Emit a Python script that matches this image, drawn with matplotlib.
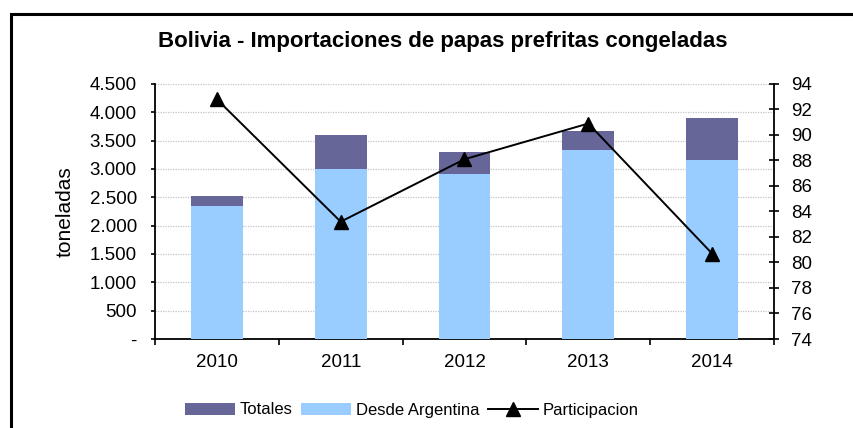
import numpy as np
import matplotlib
matplotlib.use("Agg")
import matplotlib.pyplot as plt
from matplotlib.patches import Rectangle

plt.rcParams['font.family'] = ['Liberation Sans', 'DejaVu Sans']

years = ['2010', '2011', '2012', '2013', '2014']
totales = [2520, 3600, 3300, 3670, 3900]
argentina = [2340, 3000, 2910, 3335, 3155]
participacion = [92.8, 83.2, 88.1, 90.9, 80.7]

fig = plt.figure(figsize=(8.54, 4.28), dpi=100)
ax = fig.add_axes([155/854, 1-339/428, 619/854, 255/428])

# outer frame of the chart
fig.patches.append(Rectangle((11/854, -0.1), 1.2, 1 - 14/428 + 0.1,
                             transform=fig.transFigure, fill=False,
                             edgecolor='black', linewidth=2.2))

x = np.arange(len(years))
w = 0.42
b1 = ax.bar(x, totales, w, color='#666699', label='Totales', zorder=2)
b2 = ax.bar(x, argentina, w, color='#99ccff', label='Desde Argentina', zorder=3)

ax.set_xlim(-0.5, 4.5)
ax.set_ylim(0, 4500)
yt = np.arange(0, 4501, 500)
ax.set_yticks(yt)
ax.set_yticklabels(['-'] + [f'{v:,}'.replace(',', '.') for v in yt[1:]])
ax.yaxis.grid(True, color='#c4c4c4', linestyle=(0, (1, 1)), linewidth=0.9)
ax.set_axisbelow(True)
ax.set_xticks(x)
ax.set_xticklabels(years)
ax.set_xticks(np.arange(-0.5, 5, 1), minor=True)
ax.tick_params(axis='x', which='major', length=0, pad=11, labelsize=13.5)
ax.tick_params(axis='x', which='minor', length=4, width=1.2, direction='out')
ax.tick_params(axis='y', length=3, width=1.2, direction='out', labelsize=13.5, pad=10)
ax.set_ylabel('toneladas', fontsize=15, labelpad=11)
for s in ['top', 'right']:
    ax.spines[s].set_visible(False)
for s in ['left', 'bottom']:
    ax.spines[s].set_linewidth(1.3)

ax2 = ax.twinx()
ax2.set_ylim(74, 94)
ax2.set_yticks(np.arange(74, 95, 2))
line, = ax2.plot(x, participacion, color='black', marker='^', markersize=10,
                 linewidth=1.4, label='Participacion', zorder=5)
ax2.tick_params(axis='y', length=7, width=1.2, direction='inout', labelsize=13.5, pad=9)
for s in ['top', 'left', 'bottom']:
    ax2.spines[s].set_visible(False)
ax2.spines['right'].set_linewidth(1.3)

fig.text(443/854, 1-42/428, 'Bolivia - Importaciones de papas prefritas congeladas',
         ha='center', va='center', fontsize=16, fontweight='bold')

fig.legend([b1, b2, line], ['Totales', 'Desde Argentina', 'Participacion'],
           loc='center', bbox_to_anchor=(412/854, 1-410/428), ncol=3, frameon=False,
           fontsize=12, handlelength=3.0, handletextpad=0.3, columnspacing=0.5)

fig.savefig('out.png', dpi=100)
